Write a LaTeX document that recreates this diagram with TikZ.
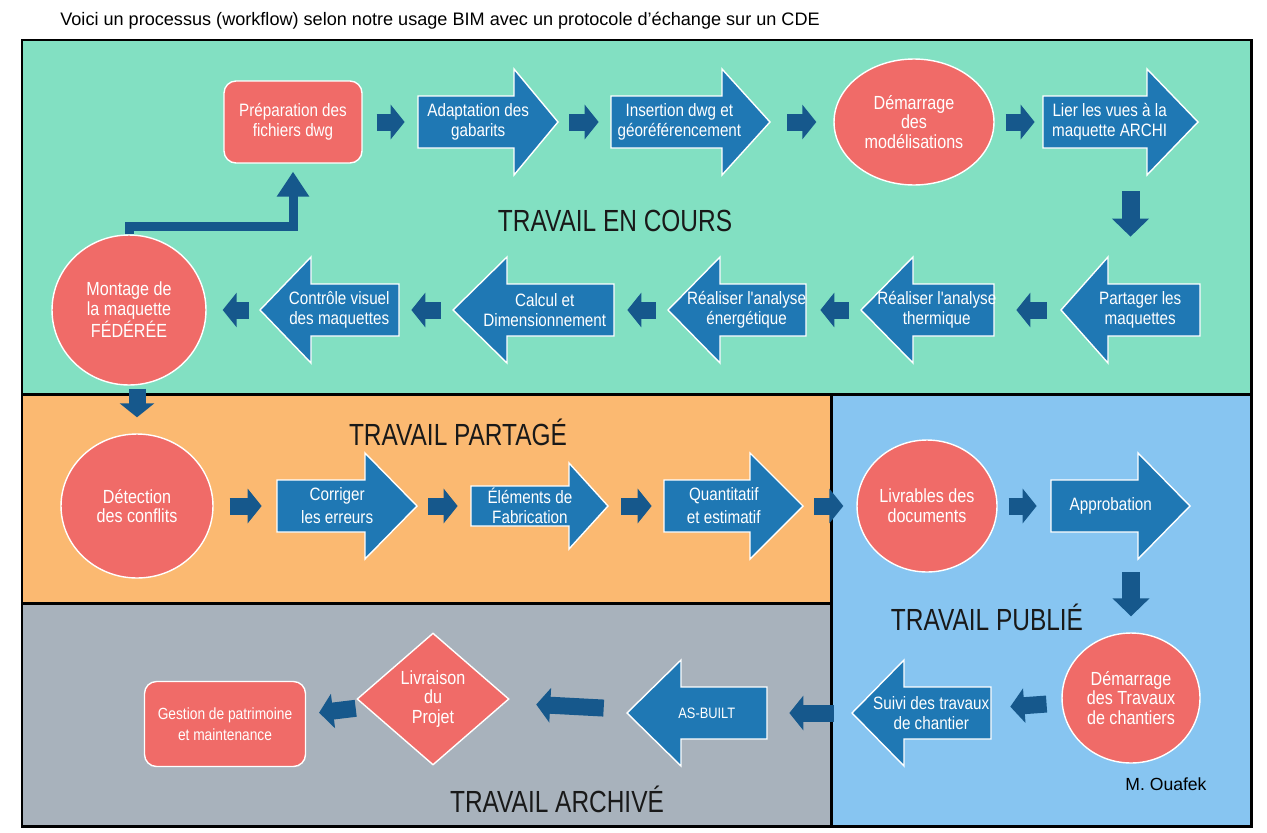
\documentclass[tikz,border=0pt]{standalone}
\usepackage{fontspec}
\setmainfont{Liberation Sans}
\newfontfamily\narrowsans[FakeStretch=0.85]{Liberation Sans}
\newfontfamily\headsans[FakeStretch=0.8]{Liberation Sans}
\usetikzlibrary{arrows.meta, shapes.geometric}

\definecolor{wipgreen}{HTML}{82E0C2}
\definecolor{sharedorange}{HTML}{FBB971}
\definecolor{publishedblue}{HTML}{87C5F1}
\definecolor{archivedgrey}{HTML}{A8B2BC}
\definecolor{bubblered}{HTML}{F06B68}
\definecolor{stepblue}{HTML}{1F78B4}
\definecolor{linkblue}{HTML}{16588C}

\newcommand{\stepfont}{\narrowsans\fontsize{10.2}{11.6}\selectfont}
\newcommand{\bubblefont}{\narrowsans\fontsize{10.8}{11.2}\selectfont}

% block arrow: name, tail x, neck x, tip x, centre y, text
\newcommand{\arrshaft}{26}
\newcommand{\arrhead}{53}
\newcommand{\blockarrow}[6]{%
  \draw[stepshape] (#2,#5-\arrshaft) -- (#3,#5-\arrshaft) -- (#3,#5-\arrhead)
    -- (#4,#5) -- (#3,#5+\arrhead) -- (#3,#5+\arrshaft) -- (#2,#5+\arrshaft) -- cycle;
  \node[stepbox, minimum width={abs(#4-#2)*0.02cm}, minimum height={2*\arrhead*0.02cm},
    label={[steptext, name=#1 text, xshift={0.07*(#2-#4)*0.02cm}]center:{#6}}]
    (#1) at ({(#2+#4)/2},#5) {};
}

\begin{document}
\begin{tikzpicture}[x=0.02cm, y=-0.02cm,
  zone/.style={draw=black, line width=1.7pt},
  zonetitle/.style={font=\headsans\fontsize{17.4}{20}\selectfont, text=black!90, inner sep=0pt},
  task/.style={draw=white, line width=0.8pt, fill=bubblered, rounded corners=0.24cm,
    text=white, align=center, inner sep=0pt, font=\stepfont},
  milestone/.style={ellipse, draw=white, line width=0.8pt, fill=bubblered,
    text=white, align=center, inner sep=0pt, font=\bubblefont},
  gate/.style={milestone, diamond},
  stepshape/.style={fill=stepblue, draw=white, line width=0.8pt},
  stepbox/.style={inner sep=0pt},
  steptext/.style={inner sep=0pt, text=white, align=center, font=\stepfont},
  link/.style={draw=linkblue, line width=0.34cm, -{Triangle[length=0.28cm, width=0.68cm]},
    shorten <=0.24cm, shorten >=0.24cm},
  drop/.style={link, line width=0.36cm, -{Triangle[length=0.36cm, width=0.72cm]}},
  elbow/.style={draw=linkblue, line width=0.18cm, -{Triangle[length=0.5cm, width=0.62cm]},
    shorten >=0.16cm}
]
\useasboundingbox (0,0) rectangle (1267,832);
\fill[white] (0,0) rectangle (1267,832);

% zones
\fill[wipgreen] (22,40) rectangle (1251,394);
\fill[sharedorange] (22,394) rectangle (831,603);
\fill[publishedblue] (831,394) rectangle (1251,826);
\fill[archivedgrey] (22,603) rectangle (831,826);
\draw[zone] (22,40) rectangle (1251,826);
\draw[zone] (22,394) -- (1251,394);
\draw[zone] (831,394) -- (831,826);
\draw[zone] (22,603) -- (831,603);

\node[font=\fontsize{10.3}{12}\selectfont, anchor=west, inner sep=0pt] (title) at (60,21)
  {Voici un processus (workflow) selon notre usage BIM avec un protocole d’échange sur un CDE};

\node[zonetitle] (wiplabel) at (615,221) {TRAVAIL EN COURS};
\node[zonetitle] (sharedlabel) at (458,432) {TRAVAIL PARTAGÉ};
\node[zonetitle] (publishedlabel) at (987,617) {TRAVAIL PUBLIÉ};
\node[zonetitle] (archivedlabel) at (557,799) {TRAVAIL ARCHIVÉ};
\node[font=\fontsize{10}{12}\selectfont, inner sep=0pt] (author) at (1166,784) {M. Ouafek};

% travail en cours, first row
\node[task, minimum width=2.76cm, minimum height=1.64cm] (prep) at (293,122)
  {Préparation des\\fichiers dwg};
\blockarrow{adapt}{418}{514}{558}{122}{Adaptation des\\gabarits}
\blockarrow{insert}{611}{722}{770}{122}{Insertion dwg et\\géoréférencement}
\node[milestone, minimum width=3.2cm, minimum height=2.52cm] (startmod) at (914,122)
  {Démarrage\\des\\modélisations};
\blockarrow{views}{1043}{1147}{1198}{122}{Lier les vues à la\\maquette ARCHI}

% travail en cours, second row
\blockarrow{share}{1200}{1108}{1061}{310}{Partager les\\maquettes}
\blockarrow{thermal}{994}{913}{861}{310}{Réaliser l'analyse\\thermique}
\blockarrow{energy}{806}{720}{668}{310}{Réaliser l'analyse\\énergétique}
\blockarrow{sizing}{614}{507}{453}{310}{Calcul et\\Dimensionnement}
\blockarrow{visual}{399}{311}{260}{310}{Contrôle visuel\\des maquettes}
\node[milestone, minimum width=3.08cm, minimum height=3.0cm] (montage) at (129,310)
  {Montage de\\la maquette\\FÉDÉRÉE};

% travail partage
\node[milestone, minimum width=3.04cm, minimum height=2.88cm] (detect) at (137,506)
  {Détection\\des conflits};
\blockarrow{fix}{277}{365}{417}{506}{Corriger\\[1.5pt]les erreurs}
\begin{scope}
  \renewcommand{\arrshaft}{20}\renewcommand{\arrhead}{43}
  \blockarrow{fab}{471}{569}{608}{506}{Éléments de\\Fabrication}
\end{scope}
\blockarrow{quantity}{664}{750}{803}{506}{Quantitatif\\[1.5pt]et estimatif}

% travail publie
\node[milestone, minimum width=2.8cm, minimum height=2.64cm] (deliver) at (927,506)
  {Livrables des\\documents};
\blockarrow{approval}{1051}{1138}{1190}{506}{Approbation}
\node[milestone, minimum width=2.76cm, minimum height=2.6cm] (worksite) at (1131,698)
  {Démarrage\\des Travaux\\de chantiers};
\blockarrow{followup}{991}{904}{852}{713}{Suivi des travaux\\de chantier}

% travail archive
\blockarrow{asbuilt}{767}{681}{627}{713}{\fontsize{8.6}{10}\selectfont AS-BUILT}
\node[gate, minimum width=3.04cm, minimum height=2.64cm] (delivery) at (433,699)
  {Livraison\\du\\Projet};
\node[task, minimum width=3.22cm, minimum height=1.7cm, font=\narrowsans\fontsize{9.2}{12}\selectfont]
  (assets) at (225,724) {Gestion de patrimoine\\et maintenance};

% connectors
\draw[link, shorten <=0.28cm, shorten >=0.26cm] (prep) -- (adapt);
\draw[link, shorten <=0.22cm] (adapt) -- (insert);
\draw[link, shorten <=0.34cm, shorten >=0.34cm] (insert) -- (startmod);
\draw[link, shorten <=0.22cm, shorten >=0.16cm] (startmod) -- (views);
\draw[drop, shorten <=0.32cm, shorten >=0.4cm] (views.south -| share.north) -- (share.north);
\draw[link, shorten <=0.28cm, shorten >=0.44cm] (share) -- (thermal);
\draw[link, shorten >=0.28cm] (thermal) -- (energy);
\draw[link, shorten >=0.26cm] (energy) -- (sizing);
\draw[link] (sizing) -- (visual);
\draw[link, shorten <=0.22cm, shorten >=0.32cm] (visual) -- (montage);
\draw[elbow] (montage.north) -- ++(0,-8) -| (prep.south);
\draw[link, shorten <=0.06cm, shorten >=0.32cm] (montage.south -| detect.north) -- (detect.north);
\draw[link, shorten <=0.32cm, shorten >=0.3cm] (detect) -- (fix);
\draw[link, shorten <=0.22cm, shorten >=0.26cm] (fix) -- (fab);
\draw[link, shorten <=0.26cm] (fab) -- (quantity);
\draw[link, shorten <=0.22cm, shorten >=0.26cm] (quantity) -- (deliver);
\draw[link, shorten <=0.22cm, shorten >=0.28cm] (deliver) -- (approval);
\draw[drop, shorten <=0.26cm, shorten >=0.32cm] (approval.south -| worksite.north) -- (worksite.north);
\draw[link, shorten <=0.3cm, shorten >=0.38cm] (worksite) -- (followup);
\draw[link, shorten <=0.36cm, shorten >=0.44cm] (followup) -- (asbuilt);
\draw[link, shorten <=0.46cm, shorten >=0.62cm] (asbuilt) -- (delivery);
\draw[link, shorten <=0.2cm, shorten >=0.26cm] (delivery) -- (assets);
\end{tikzpicture}
\end{document}
